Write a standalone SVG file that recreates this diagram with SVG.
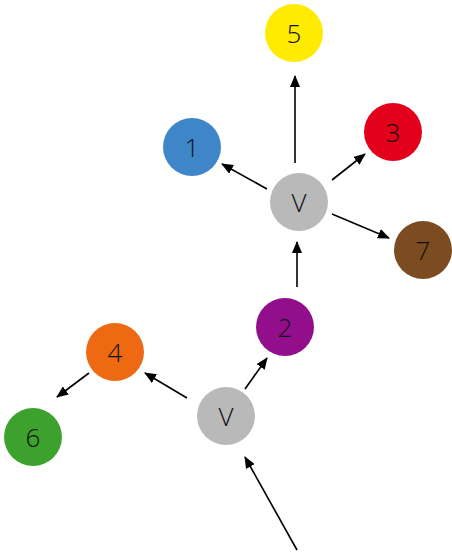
<svg xmlns="http://www.w3.org/2000/svg" width="452" height="556" viewBox="0 0 452 556">
<defs>
<marker id="ah" viewBox="0 0 12 10" refX="11" refY="5" markerWidth="12" markerHeight="10" markerUnits="userSpaceOnUse" orient="auto">
<path d="M0,0 L12,5 L0,10 z" fill="#000"/>
</marker>
<style>
.n{stroke:none}
.t{font-family:"Open Sans","Liberation Sans",Arial,sans-serif;font-weight:300;font-size:26px;fill:#111;text-anchor:middle;dominant-baseline:central}
.e{stroke:#000;stroke-width:1.6;fill:none;marker-end:url(#ah)}
</style>
</defs>
<rect width="452" height="556" fill="#fff"/>
<g id="connectors">
<line class="e" x1="295" y1="163" x2="295" y2="76"/>
<line class="e" x1="267" y1="189" x2="222" y2="164"/>
<line class="e" x1="332" y1="180" x2="365" y2="154"/>
<line class="e" x1="332" y1="214" x2="389" y2="238"/>
<line class="e" x1="297" y1="287" x2="297" y2="242"/>
<line class="e" x1="245" y1="389" x2="267" y2="358"/>
<line class="e" x1="187" y1="398" x2="145" y2="373"/>
<line class="e" x1="89" y1="373" x2="57" y2="397"/>
<line class="e" x1="297" y1="550" x2="245" y2="457"/>
</g>
<g id="n5"><circle class="n" cx="294" cy="33" r="29" fill="#FFEB00"/><text class="t" x="294" y="33">5</text></g>
<g id="n1"><circle class="n" cx="192" cy="147" r="29" fill="#3F86C8"/><text class="t" x="192" y="147">1</text></g>
<g id="n3"><circle class="n" cx="393" cy="132" r="29" fill="#E3001B"/><text class="t" x="393" y="132">3</text></g>
<g id="vtop"><circle class="n" cx="299" cy="202" r="29" fill="#B9B9B9"/><text class="t" x="299" y="202">V</text></g>
<g id="n7"><circle class="n" cx="423" cy="250" r="29" fill="#7B4C1F"/><text class="t" x="423" y="250">7</text></g>
<g id="n2"><circle class="n" cx="285" cy="327" r="29" fill="#920E8B"/><text class="t" x="285" y="327">2</text></g>
<g id="n4"><circle class="n" cx="115" cy="352" r="29" fill="#EE6A12"/><text class="t" x="115" y="352">4</text></g>
<g id="n6"><circle class="n" cx="33" cy="437" r="29" fill="#3DA22D"/><text class="t" x="33" y="437">6</text></g>
<g id="vbot"><circle class="n" cx="226" cy="416" r="29" fill="#B9B9B9"/><text class="t" x="226" y="416">V</text></g>
</svg>
